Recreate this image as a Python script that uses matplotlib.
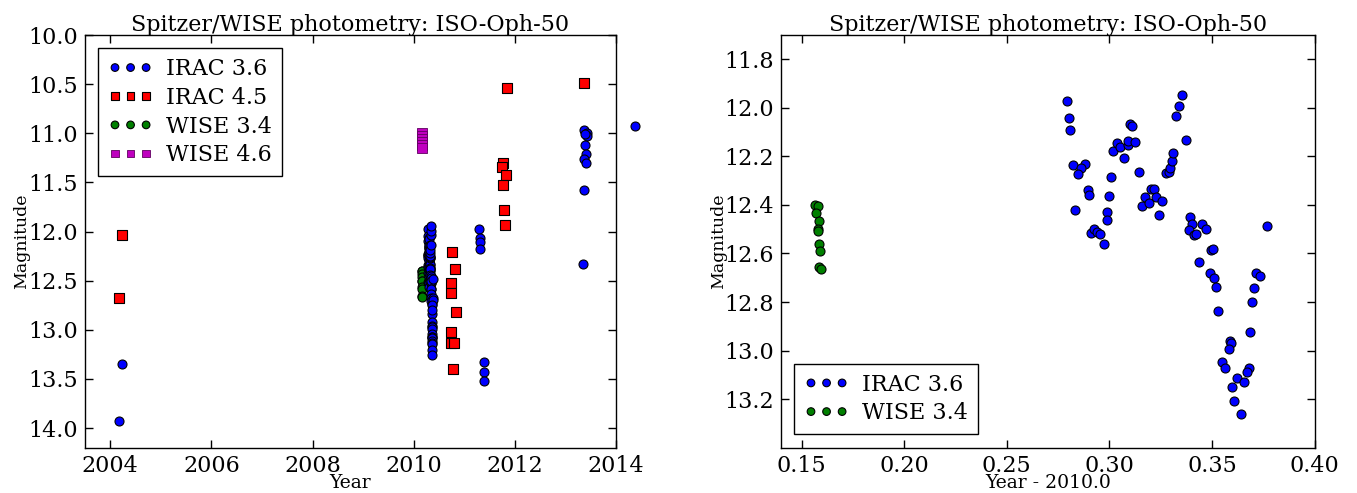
import matplotlib
matplotlib.use("Agg")
import matplotlib.pyplot as plt
import numpy as np

plt.rcParams['font.family'] = ['DejaVu Serif']

# ---------------- data ----------------
# IRAC 3.6 : 2010 campaign given as offsets from 2010.0
irac36_2010_dt = [0.2795, 0.2804, 0.2810, 0.2822, 0.2883, 0.2863, 0.2849, 0.2834, 0.2898, 0.2901,
                  0.3007, 0.2997, 0.2990, 0.2987, 0.2911, 0.2927, 0.2941, 0.2956, 0.2974, 0.3019,
                  0.3036, 0.3052, 0.3072, 0.3090, 0.3093, 0.3101, 0.3112, 0.3125, 0.3143, 0.3158,
                  0.3174, 0.3193, 0.3203, 0.3216, 0.3226, 0.3258, 0.3242, 0.3275, 0.3291, 0.3297,
                  0.3304, 0.3312, 0.3323, 0.3338, 0.3354, 0.3372, 0.3393, 0.3403, 0.3390, 0.3411,
                  0.3422, 0.3452, 0.3473, 0.3496, 0.3504, 0.3436, 0.3489, 0.3510, 0.3520, 0.3531,
                  0.3768, 0.3716, 0.3733, 0.3704, 0.3694, 0.3687, 0.3587, 0.3595, 0.3582, 0.3548,
                  0.3565, 0.3679, 0.3671, 0.3621, 0.3657, 0.3599, 0.3609, 0.3640]
irac36_2010_mag = [11.971, 12.043, 12.093, 12.234, 12.230, 12.248, 12.274, 12.422, 12.340, 12.359,
                   12.285, 12.364, 12.430, 12.461, 12.517, 12.499, 12.513, 12.520, 12.561, 12.178,
                   12.144, 12.163, 12.207, 12.154, 12.135, 12.067, 12.074, 12.141, 12.266, 12.404,
                   12.368, 12.391, 12.336, 12.333, 12.367, 12.382, 12.440, 12.268, 12.263, 12.247,
                   12.220, 12.185, 12.035, 11.994, 11.947, 12.134, 12.448, 12.480, 12.502, 12.525,
                   12.521, 12.477, 12.499, 12.587, 12.581, 12.634, 12.680, 12.702, 12.738, 12.835,
                   12.487, 12.679, 12.693, 12.743, 12.801, 12.922, 12.959, 12.967, 12.993, 13.046,
                   13.073, 13.070, 13.087, 13.111, 13.130, 13.149, 13.207, 13.260]
# IRAC 3.6 : other epochs (years)
irac36_other_year = [2004.23, 2004.18, 2011.29, 2011.31, 2011.31, 2011.32, 2011.39, 2011.39, 2011.39,
                     2013.375, 2013.42, 2013.43, 2013.39, 2013.39, 2013.41, 2013.37, 2013.41,
                     2013.36, 2013.34, 2014.37]
irac36_other_mag = [13.35, 13.93, 11.975, 12.07, 12.11, 12.175, 13.33, 13.43, 13.52,
                    10.97, 11.00, 11.03, 11.01, 11.115, 11.21, 11.26, 11.30,
                    11.58, 12.335, 10.925]

# IRAC 4.5
irac45_year = [2004.23, 2004.18, 2010.75, 2010.81, 2010.74, 2010.73, 2010.83, 2010.73, 2010.73,
               2010.80, 2010.77, 2011.85, 2011.76, 2011.74, 2011.83, 2011.77, 2011.78, 2011.80,
               2013.375]
irac45_mag = [12.036, 12.678, 12.212, 12.383, 12.525, 12.630, 12.824, 13.025, 13.137,
              13.137, 13.395, 10.540, 11.305, 11.342, 11.424, 11.529, 11.784, 11.937,
              10.489]

# WISE 3.4 (offsets from 2010.0)
wise34_dt = [0.1565, 0.1580, 0.1572, 0.1585, 0.1578, 0.1582, 0.1583, 0.1588, 0.1584, 0.1595]
wise34_mag = [12.400, 12.405, 12.433, 12.465, 12.499, 12.507, 12.561, 12.588, 12.654, 12.664]

# WISE 4.6 (offsets from 2010.0)
wise46_dt = [0.1565, 0.1575, 0.1580, 0.1585, 0.1578, 0.1588]
wise46_mag = [11.00, 11.03, 11.06, 11.09, 11.12, 11.15]

base_year = 2010.0
title = "Spitzer/WISE photometry: ISO-Oph-50"

# ---------------- figure ----------------
fig = plt.figure(figsize=(13.57, 4.93), dpi=100)
ax1 = fig.add_axes([85/1357, 1-447.7/493, (616-85)/1357, (447.7-35)/493])
ax2 = fig.add_axes([781/1357, 1-447.7/493, (1314.5-781)/1357, (447.7-35)/493])

ms = 42
kw = dict(edgecolors='black', linewidths=0.8)

irac36_year = list(irac36_other_year[:2]) + [base_year + d for d in irac36_2010_dt] + list(irac36_other_year[2:])
irac36_mag = list(irac36_other_mag[:2]) + list(irac36_2010_mag) + list(irac36_other_mag[2:])

ax1.scatter(irac36_year, irac36_mag, s=ms, c='blue', marker='o', label='IRAC 3.6', clip_on=False, zorder=3, **kw)
ax1.scatter(irac45_year, irac45_mag, s=ms, c='red', marker='s', label='IRAC 4.5', zorder=3, **kw)
ax1.scatter([base_year + d for d in wise34_dt], wise34_mag, s=ms, c='green', marker='o', label='WISE 3.4', zorder=2, **kw)
ax1.scatter([base_year + d for d in wise46_dt], wise46_mag, s=ms, c='m', marker='s', label='WISE 4.6', zorder=3,
            edgecolors='#600060', linewidths=0.6)

ax1.set_xlim(2003.5, 2014)
ax1.set_ylim(14.2, 10.0)
ax1.set_xticks([2004, 2006, 2008, 2010, 2012, 2014])
ax1.set_yticks(np.arange(10.0, 14.01, 0.5))
ax1.set_yticklabels([f"{v:.1f}" for v in np.arange(10.0, 14.01, 0.5)])
ax1.set_xlabel("Year", fontsize=13.5, labelpad=-2)
ax1.set_ylabel("Magnitude", fontsize=12.5, labelpad=-1)
ax1.set_title(title, fontsize=16, pad=3)

legkw = dict(scatterpoints=3, scatteryoffsets=[0.5], fontsize=16, fancybox=False,
             framealpha=1, edgecolor='black', borderaxespad=0.6, handletextpad=0.6,
             labelspacing=0.3, markerscale=0.85, handlelength=2.0, borderpad=0.45)
leg1 = ax1.legend(loc='upper left', **legkw)
leg1.get_frame().set_linewidth(1.0)

ax2.scatter(irac36_2010_dt, irac36_2010_mag, s=ms, c='blue', marker='o', label='IRAC 3.6', zorder=3, **kw)
ax2.scatter(wise34_dt, wise34_mag, s=ms, c='green', marker='o', label='WISE 3.4', zorder=3, **kw)
ax2.set_xlim(0.14, 0.40)
ax2.set_ylim(13.4, 11.7)
ax2.set_xticks([0.15, 0.20, 0.25, 0.30, 0.35, 0.40])
ax2.set_xticklabels([f"{v:.2f}" for v in [0.15, 0.20, 0.25, 0.30, 0.35, 0.40]])
yt = [11.8, 12.0, 12.2, 12.4, 12.6, 12.8, 13.0, 13.2]
ax2.set_yticks(yt)
ax2.set_yticklabels([f"{v:.1f}" for v in yt])
ax2.set_xlabel("Year - 2010.0", fontsize=13.5, labelpad=-2)
ax2.set_ylabel("Magnitude", fontsize=12.5, labelpad=-2)
ax2.set_title(title, fontsize=16, pad=3)
leg2 = ax2.legend(loc='lower left', **legkw)
leg2.get_frame().set_linewidth(1.0)

for ax in (ax1, ax2):
    ax.tick_params(direction='in', top=True, right=True, labelsize=16, length=6, width=1, pad=5)
    for sp in ax.spines.values():
        sp.set_linewidth(1.0)

fig.savefig("out.png", dpi=100)
